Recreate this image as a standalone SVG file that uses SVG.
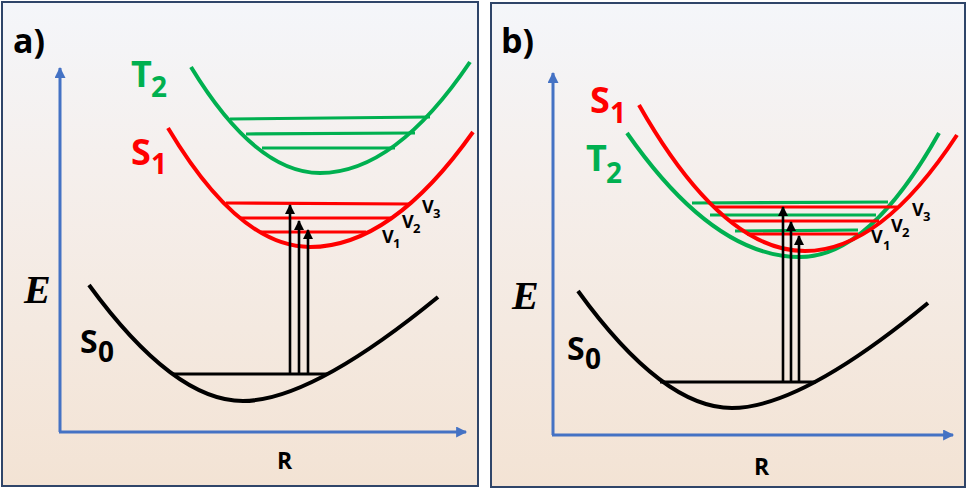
<svg xmlns="http://www.w3.org/2000/svg" width="970" height="492" viewBox="0 0 970 492">
<defs>
<linearGradient id="bg" x1="0" y1="0" x2="0" y2="1">
<stop offset="0" stop-color="#f4f6fa"/>
<stop offset="0.35" stop-color="#f5efec"/>
<stop offset="1" stop-color="#f3e3d4"/>
</linearGradient>
<marker id="axhead" viewBox="0 0 10 10" refX="9" refY="5" markerWidth="12" markerHeight="11" markerUnits="userSpaceOnUse" orient="auto">
<path d="M0,0 L10,5 L0,10 z" fill="#4472c4"/>
</marker>
<marker id="arr" viewBox="0 0 10 10" refX="9" refY="5" markerWidth="11" markerHeight="10" markerUnits="userSpaceOnUse" orient="auto">
<path d="M0,0 L10,5 L0,10 z" fill="#000"/>
</marker>
</defs>
<style>
.panel{fill:url(#bg);stroke:#2f4569;stroke-width:2}
.axis{stroke:#4472c4;stroke-width:3;fill:none}
.curve{fill:none;stroke-width:4;stroke-linecap:butt}
.lvl{fill:none;stroke-width:3.2}
.g{stroke:#00b050}
.r{stroke:#ff0000}
.k{stroke:#000}
.tr{stroke:#000;stroke-width:2.6;fill:none}
.lab{font-family:"Open Sans","Liberation Sans",sans-serif;font-weight:700}
.pl{font-size:34px}
.ax{font-size:23px}
.big{font-size:36px}
.sub{font-size:28px}
.s0{font-size:32px}
.vv{font-size:18px}
.vs{font-size:13px}
.gt{fill:#00b050}
.rt{fill:#ff0000}
.kt{fill:#000}
.e{font-family:"Liberation Serif","Times New Roman",serif;font-weight:700;font-style:italic;font-size:40px;fill:#000}
</style>

<g id="panel-a">
<rect class="panel" x="2" y="2" width="476" height="484"/>
<text class="lab kt pl" x="13" y="53">a)</text>
<g id="axes-a">
<line class="axis" x1="60" y1="432" x2="60" y2="68" marker-end="url(#axhead)"/>
<line class="axis" x1="59" y1="432" x2="466" y2="432" marker-end="url(#axhead)"/>
<text class="e" x="24" y="303">E</text>
<text class="lab kt ax" x="277" y="469">R</text>
</g>
<g id="T2-a">
<path class="curve g" d="M191,67 Q255.5,173 320,173 Q395,173 470,62"/>
<line class="lvl g" x1="230" y1="119" x2="430" y2="117"/>
<line class="lvl g" x1="246" y1="134" x2="415" y2="133"/>
<line class="lvl g" x1="262" y1="148" x2="395" y2="148"/>
<text class="lab gt big" x="131" y="87">T<tspan class="sub" x="151" y="97">2</tspan></text>
</g>
<g id="S1-a">
<path class="curve r" d="M168,128 Q239,247 310,247 Q391.5,247 473,132"/>
<line class="lvl r" x1="226" y1="203" x2="409" y2="204"/>
<line class="lvl r" x1="241" y1="218" x2="391" y2="218"/>
<line class="lvl r" x1="261" y1="232" x2="366" y2="232"/>
<text class="lab rt big" x="131" y="165">S<tspan class="sub" x="151" y="174">1</tspan></text>
<text class="lab kt vv" x="382" y="243">V<tspan class="vs" x="393" y="248">1</tspan></text>
<text class="lab kt vv" x="402" y="228">V<tspan class="vs" x="413" y="233">2</tspan></text>
<text class="lab kt vv" x="422" y="213">V<tspan class="vs" x="433" y="218">3</tspan></text>
</g>
<g id="S0-a">
<path class="curve k" d="M89,285 Q173.7,401 243,401 Q311,401 438,297"/>
<line class="lvl k" x1="172" y1="374" x2="328" y2="374"/>
<text class="lab kt s0" x="80" y="353">S<tspan class="sub" x="98" y="362">0</tspan></text>
</g>
</g>

<g id="panel-b">
<rect class="panel" x="491" y="3" width="474" height="484"/>
<text class="lab kt pl" x="501" y="53">b)</text>
<g id="axes-b">
<line class="axis" x1="553" y1="435" x2="553" y2="73" marker-end="url(#axhead)"/>
<line class="axis" x1="552" y1="435" x2="953" y2="435" marker-end="url(#axhead)"/>
<text class="e" x="512" y="309">E</text>
<text class="lab kt ax" x="754" y="475">R</text>
</g>
<g id="T2-b">
<path class="curve g" d="M627,133 Q713.5,257 800,257 Q869.5,257 939,133"/>
<line class="lvl g" x1="692" y1="203" x2="888" y2="202"/>
<line class="lvl g" x1="710" y1="215" x2="876" y2="215"/>
<line class="lvl g" x1="735" y1="231" x2="858" y2="230"/>
<text class="lab gt big" x="586" y="171">T<tspan class="sub" x="606" y="183">2</tspan></text>
</g>
<g id="S1-b">
<path class="curve r" d="M639,105 Q722,251 805,251 Q881,251 957,135"/>
<line class="lvl r" x1="715" y1="207" x2="897" y2="207"/>
<line class="lvl r" x1="731" y1="221" x2="879" y2="221"/>
<line class="lvl r" x1="747" y1="234" x2="858" y2="234"/>
<text class="lab rt big" x="590" y="113">S<tspan class="sub" x="610" y="123">1</tspan></text>
<text class="lab kt vv" x="871" y="243">V<tspan class="vs" x="883" y="250">1</tspan></text>
<text class="lab kt vv" x="891" y="232">V<tspan class="vs" x="902" y="237">2</tspan></text>
<text class="lab kt vv" x="912" y="216">V<tspan class="vs" x="923" y="221">3</tspan></text>
</g>
<g id="S0-b">
<path class="curve k" d="M578,291 Q662.7,408 732,408 Q800.6,408 928,303"/>
<line class="lvl k" x1="660" y1="382" x2="816" y2="382"/>
<text class="lab kt s0" x="567" y="360">S<tspan class="sub" x="585" y="369">0</tspan></text>
</g>
</g>

<g id="connectors">
<line class="tr" x1="290" y1="374" x2="290" y2="205" marker-end="url(#arr)"/>
<line class="tr" x1="299" y1="374" x2="299" y2="221" marker-end="url(#arr)"/>
<line class="tr" x1="308" y1="374" x2="308" y2="230" marker-end="url(#arr)"/>
<line class="tr" x1="783" y1="382" x2="783" y2="207" marker-end="url(#arr)"/>
<line class="tr" x1="791" y1="382" x2="791" y2="222" marker-end="url(#arr)"/>
<line class="tr" x1="799" y1="382" x2="799" y2="236" marker-end="url(#arr)"/>
</g>
</svg>
